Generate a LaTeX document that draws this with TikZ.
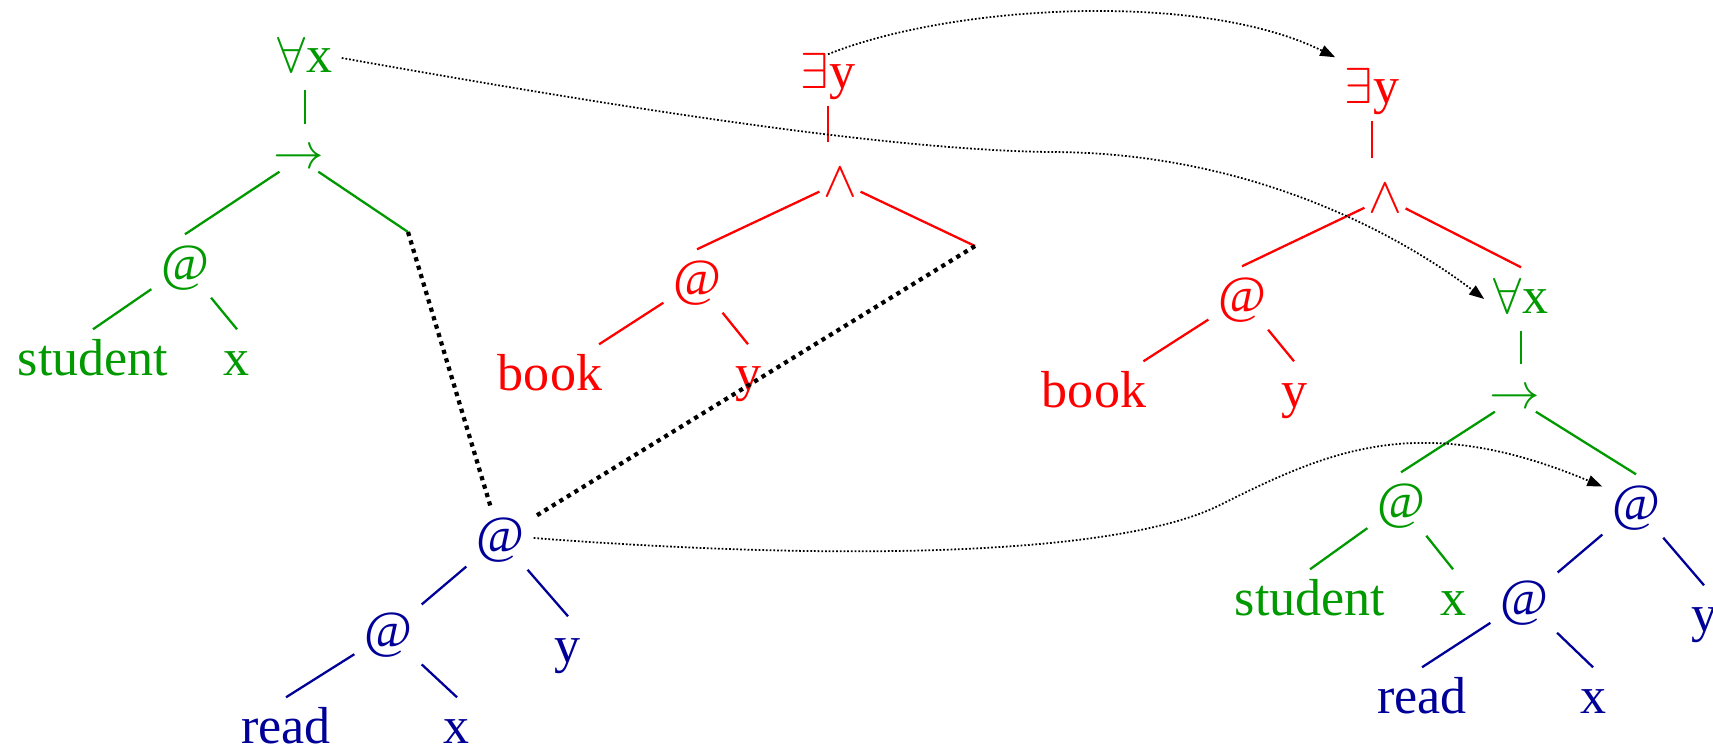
\documentclass[tikz,border=0pt]{standalone}
\usepackage{fontspec}
\setmainfont{Liberation Serif}
\usetikzlibrary{arrows.meta}
\definecolor{treegreen}{HTML}{009900}
\definecolor{treered}{HTML}{FF0000}
\definecolor{treeblue}{HTML}{000099}

\begin{document}
\begin{tikzpicture}[x=0.01cm, y=-0.01cm, font=\fontsize{14.8}{17}\selectfont,
    >={Triangle[length=0.15cm, width=0.11cm]},
    word/.style={anchor=base, inner sep=0.09cm,
                 text height=0.36cm, text depth=0.08cm},
    oper/.style={anchor=base, inner sep=0.03cm, font=\fontsize{15.5}{17}\selectfont},
    conj/.style={oper, font=\fontsize{13.5}{15}\selectfont},
    gedge/.style={draw=treegreen, line width=0.65pt},
    redge/.style={draw=treered, line width=0.65pt},
    bedge/.style={draw=treeblue, line width=0.65pt},
    qedge/.style={shorten >=0.22cm},
    plug/.style={draw=black, line width=1.2pt, dash pattern=on 1.2pt off 1.3pt},
    scopearrow/.style={draw=black, line width=0.5pt,
                       dash pattern=on 0.5pt off 0.55pt, ->}]

\useasboundingbox (0,0) rectangle (1713,751);

% Left: every student (green)
\node[word, text=treegreen] (ax1)  at (305,72)  {$\forall$x};
\node[oper, text=treegreen] (imp1) at (299,168) {$\rightarrow$};
\node[word, text=treegreen] (at1)  at (185,280) {@};
\node[word, text=treegreen] (st1)  at (93,375)  {student};
\node[word, text=treegreen] (x1)   at (237,375) {x};
\coordinate (hole1) at (408,232);

% Left: some book (red)
\node[word, text=treered] (ey1) at (828,88)  {$\exists$y};
\node[conj, text=treered] (and1) at (840,196) {$\wedge$};
\node[word, text=treered] (at2) at (697,295) {@};
\node[word, text=treered] (bk1) at (550,390) {book};
\node[word, text=treered] (y2)  at (748,390) {y};
\coordinate (hole2) at (975,246);

% Left: read x y (blue)
\node[word, text=treeblue] (at3) at (500,552) {@};
\node[word, text=treeblue] (at4) at (388,647) {@};
\node[word, text=treeblue] (y3)  at (568,662) {y};
\node[word, text=treeblue] (rd1) at (286,743) {read};
\node[word, text=treeblue] (x3)  at (457,743) {x};

% Right: combined term
\node[word, text=treered] (ey2)  at (1372,103) {$\exists$y};
\node[conj, text=treered] (and2) at (1385,212) {$\wedge$};
\node[word, text=treered] (at5)  at (1242,312) {@};
\node[word, text=treered] (bk2)  at (1094,407) {book};
\node[word, text=treered] (y5)   at (1294,407) {y};
\node[word, text=treegreen] (ax2)  at (1521,313) {$\forall$x};
\node[oper, text=treegreen] (imp2) at (1515,408) {$\rightarrow$};
\node[word, text=treegreen] (at6)  at (1401,518) {@};
\node[word, text=treegreen] (st2)  at (1310,615) {student};
\node[word, text=treegreen] (x6)   at (1453,615) {x};
\node[word, text=treeblue] (at7) at (1636,520) {@};
\node[word, text=treeblue] (at8) at (1524,615) {@};
\node[word, text=treeblue] (y7)  at (1704,631) {y};
\node[word, text=treeblue] (rd2) at (1422,713) {read};
\node[word, text=treeblue] (x8)  at (1593,713) {x};

% Left tree edges
\draw[gedge, qedge] (ax1.south) -- (ax1.south |- imp1.north);
\draw[gedge] (imp1) -- (at1.north);
\draw[gedge] (imp1) -- (hole1);
\draw[gedge] (at1) -- (st1.north);
\draw[gedge] (at1) -- (x1.north);

\draw[redge, qedge] (ey1.south) -- (ey1.south |- and1.north);
\draw[redge] (and1) -- (at2.north);
\draw[redge] (and1) -- (hole2);
\draw[redge] (at2) -- (bk1);
\draw[redge] (at2) -- (y2.north);

\draw[bedge] (at3) -- (at4);
\draw[bedge] (at3) -- (y3.north);
\draw[bedge] (at4) -- (rd1.north);
\draw[bedge] (at4) -- (x3.north);

% Holes plugged by the read term
\draw[plug] (hole1) -- (at3);
\draw[plug] (hole2) -- (at3);

% Right tree edges
\draw[redge, qedge] (ey2.south) -- (ey2.south |- and2.north);
\draw[redge] (and2) -- (at5.north);
\draw[redge] (and2) -- (ax2.north);
\draw[redge] (at5) -- (bk2);
\draw[redge] (at5) -- (y5.north);

\draw[gedge, qedge] (ax2.south) -- (ax2.south |- imp2.north);
\draw[gedge] (imp2) -- (at6.north);
\draw[gedge] (imp2) -- (at7.north);
\draw[gedge] (at6) -- (st2.north);
\draw[gedge] (at6) -- (x6.north);

\draw[bedge] (at7) -- (at8);
\draw[bedge] (at7) -- (y7.north);
\draw[bedge] (at8) -- (rd2.north);
\draw[bedge] (at8) -- (x8.north);

% Where each part ends up
\draw[scopearrow] ([yshift=-0.12cm]ey1.north)
  .. controls (950,5) and (1200,-10) .. (ey2.north west);
\draw[scopearrow] (ax1.east)
  .. controls (600,104) and (880,150) .. (1050,152)
  .. controls (1250,152) and (1400,235) .. (ax2.west);
\draw[scopearrow] (at3.east)
  .. controls (850,562) and (1120,555) .. (1220,505)
  .. controls (1330,450) and (1420,410) .. (at7.150);

\end{tikzpicture}
\end{document}
